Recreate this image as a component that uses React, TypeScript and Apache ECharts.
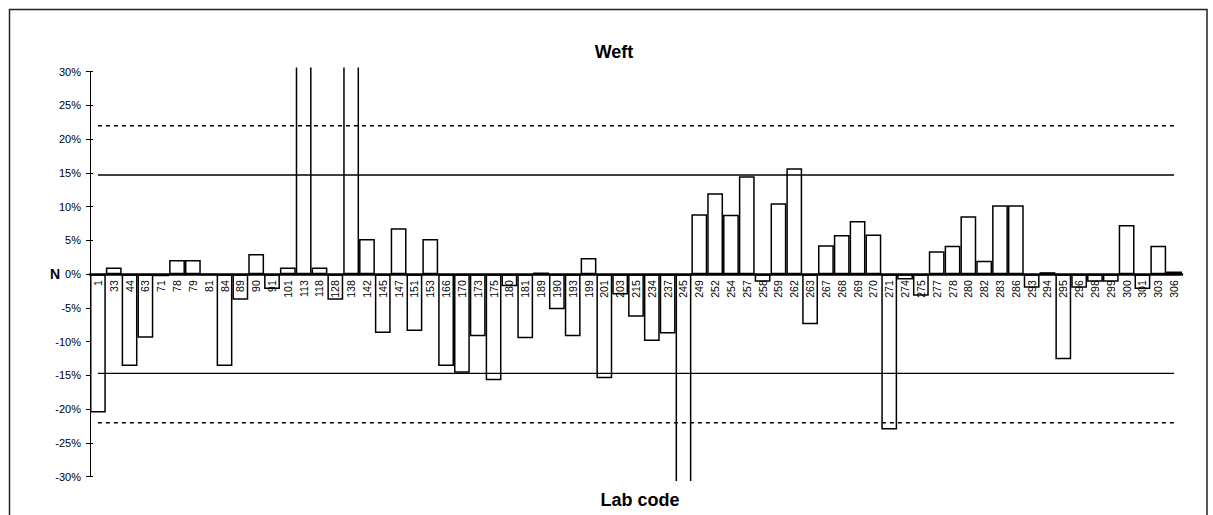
import React, { useEffect, useRef } from "react";
import * as echarts from "echarts";

const labCodes = [
  "1", "33", "44", "63", "71", "78", "79", "81", "84", "89",
  "90", "91", "101", "113", "118", "128", "138", "142", "145", "147",
  "151", "153", "166", "170", "173", "175", "180", "181", "189", "190",
  "193", "199", "201", "203", "215", "234", "237", "245", "249", "252",
  "254", "257", "258", "259", "262", "263", "267", "268", "269", "270",
  "271", "274", "275", "277", "278", "280", "282", "283", "286", "293",
  "294", "295", "296", "298", "299", "300", "301", "303", "306",
];

const weftN = [
  -20.5, 1.0, -13.6, -9.4, -0.3, 2.1, 2.1, -0.1, -13.6, -3.8,
  3.0, -2.2, 1.0, 45, 1.0, -3.8, 45, 5.2, -8.7, 6.8,
  -8.4, 5.2, -13.6, -14.6, -9.2, -15.7, -1.8, -9.5, 0.25, -5.2,
  -9.2, 2.4, -15.4, -3.0, -6.3, -9.9, -8.8, -45, 8.9, 12.0,
  8.8, 14.5, -1.1, 10.5, 15.7, -7.4, 4.3, 5.8, 7.9, 5.9,
  -23.0, -0.8, -3.2, 3.4, 4.2, 8.6, 2.0, 10.2, 10.2, -2.0,
  0.3, -12.6, -2.0, -1.1, -1.1, 7.3, -2.2, 4.2, 0.4,
];

const innerLimit = 14.7;
const outerLimit = 22;

const yTicks = { min: -30, max: 30, interval: 5 };

const FONT = "'Liberation Sans', Arial, sans-serif";

const GRID = { left: 90, right: 31, top: 71.7, bottom: 38.3 };
const H = 515;

export default function App() {
  const ref = useRef<HTMLDivElement>(null);

  useEffect(() => {
    if (!ref.current) return;
    const chart = echarts.init(ref.current, null, { renderer: "svg" });
    const flat = (v: number) => labCodes.map(() => v);
    const limitSeries = (v: number, dotted: boolean) => ({
      type: "line",
      data: flat(v),
      symbol: "none",
      silent: true,
      z: 4,
      lineStyle: {
        color: "#000",
        width: dotted ? 1.6 : 1.3,
        type: dotted ? [4, 4] : "solid",
      },
    });
    const plotH = H - GRID.top - GRID.bottom;
    const zeroOffset = -plotH * (0 - yTicks.min) / (yTicks.max - yTicks.min);
    chart.setOption({
      animation: false,
      textStyle: { fontFamily: FONT },
      grid: GRID,
      xAxis: {
        type: "category",
        data: labCodes,
        offset: zeroOffset,
        axisLine: { onZero: false, lineStyle: { color: "#000", width: 2.5 } },
        axisTick: { show: false },
        axisLabel: {
          rotate: 90,
          interval: 0,
          fontSize: 10.5,
          color: "#000",
          margin: 6,
          fontFamily: FONT,
        },
        z: 5,
      },
      yAxis: [
        {
          type: "value",
          min: yTicks.min,
          max: yTicks.max,
          interval: yTicks.interval,
          axisLine: { show: true, lineStyle: { color: "#000", width: 1 } },
          axisTick: { show: true, length: 4, lineStyle: { color: "#000" } },
          splitLine: { show: false },
          axisLabel: {
            formatter: (v: number) => `${v}%`,
            fontSize: 11,
            color: "#000",
            margin: 9,
            fontFamily: FONT,
          },
        },
        {
          type: "value",
          position: "left",
          min: yTicks.min,
          max: yTicks.max,
          interval: yTicks.interval,
          axisLine: { show: false },
          axisTick: { show: true, inside: true, length: 3, lineStyle: { color: "#000" } },
          splitLine: { show: false },
          axisLabel: { show: false },
        },
      ],
      series: [
        {
          type: "bar",
          data: weftN,
          barCategoryGap: "0%",
          clip: false,
          itemStyle: { color: "#fff", borderColor: "#000", borderWidth: 1.5 },
          z: 2,
        },
        limitSeries(innerLimit, false),
        limitSeries(-innerLimit, false),
        limitSeries(outerLimit, true),
        limitSeries(-outerLimit, true),
      ],
      graphic: [
        {
          type: "rect",
          z: 50,
          silent: true,
          shape: { x: 0, y: 0, width: 1213, height: 67.5 },
          style: { fill: "#fff" },
        },
        {
          type: "rect",
          z: 50,
          silent: true,
          shape: { x: 0, y: 481, width: 1213, height: 40 },
          style: { fill: "#fff" },
        },
        {
          type: "rect",
          z: 60,
          shape: { x: 9.5, y: 9.5, width: 1197.5, height: 520 },
          style: { fill: "none", stroke: "#222", lineWidth: 1.5 },
          silent: true,
        },
        {
          type: "text",
          z: 60,
          x: 614,
          y: 52,
          style: {
            text: "Weft",
            font: `bold 18px ${FONT}`,
            fill: "#000",
            textAlign: "center",
            textVerticalAlign: "middle",
          },
        },
        {
          type: "text",
          z: 60,
          x: 640,
          y: 500,
          style: {
            text: "Lab code",
            font: `bold 18px ${FONT}`,
            fill: "#000",
            textAlign: "center",
            textVerticalAlign: "middle",
          },
        },
        {
          type: "text",
          z: 60,
          x: 55,
          y: 273.5,
          style: {
            text: "N",
            font: `bold 14px ${FONT}`,
            fill: "#000",
            textAlign: "center",
            textVerticalAlign: "middle",
          },
        },
      ],
    });
    return () => chart.dispose();
  }, []);

  return (
    <div
      ref={ref}
      style={{ position: "absolute", left: 0, top: 0, width: 1213, height: H }}
    />
  );
}
